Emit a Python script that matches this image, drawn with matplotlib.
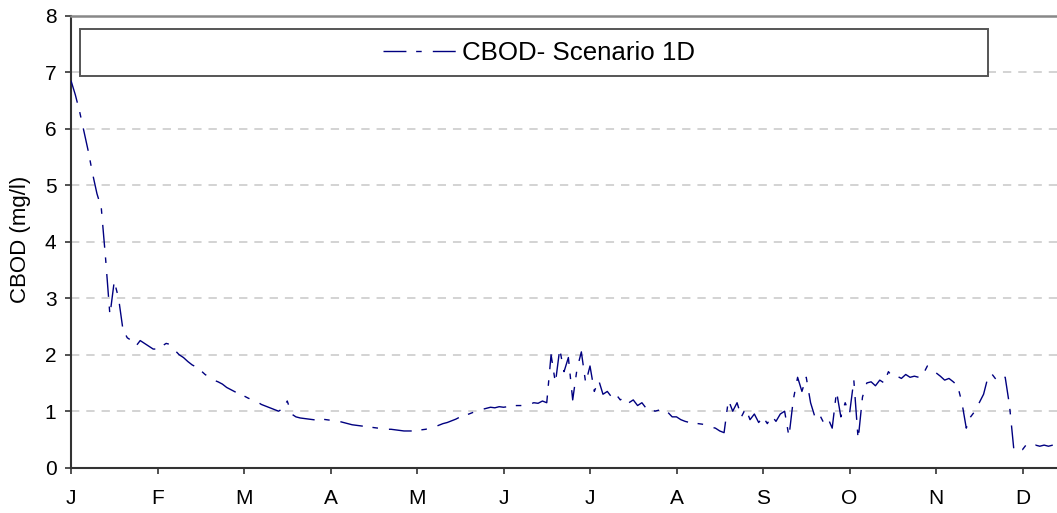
import numpy as np
import matplotlib
matplotlib.use("Agg")
import matplotlib.pyplot as plt
from matplotlib.patches import Rectangle

plt.rcParams['font.family'] = ['Liberation Sans', 'DejaVu Sans']
plt.rcParams['lines.scale_dashes'] = False

month_labels = ["J", "F", "M", "A", "M", "J", "J", "A", "S", "O", "N", "D"]
series_name = "CBOD- Scenario 1D"
time_step_months = 0.05   # sampling interval of the series, in months

cbod = [
    6.85, 6.6, 6.3, 5.95, 5.6, 5.2, 4.85, 4.6, 3.7, 2.7,
    3.3, 3.0, 2.45, 2.3, 2.25, 2.15, 2.25, 2.2, 2.15, 2.1,
    2.1, 2.15, 2.2, 2.18, 2.08, 2.0, 1.95, 1.88, 1.82, 1.78,
    1.72, 1.65, 1.6, 1.55, 1.52, 1.48, 1.42, 1.38, 1.34, 1.3,
    1.27, 1.23, 1.2, 1.17, 1.12, 1.09, 1.06, 1.03, 1.0, 1.05,
    1.18, 0.95, 0.9, 0.88, 0.87, 0.86, 0.85, 0.84, 0.86, 0.85,
    0.84, 0.85, 0.82, 0.8, 0.78, 0.76, 0.75, 0.74, 0.73, 0.72,
    0.71, 0.7, 0.7, 0.68, 0.68, 0.67, 0.66, 0.65, 0.65, 0.65,
    0.66, 0.67, 0.68, 0.7, 0.72, 0.75, 0.78, 0.8, 0.83, 0.86,
    0.9, 0.93, 0.95, 0.98, 1.0, 1.03, 1.05, 1.07, 1.06, 1.08,
    1.07, 1.08, 1.09, 1.1, 1.1, 1.12, 1.12, 1.15, 1.14, 1.18,
    1.15, 2.0, 1.5, 2.1, 1.7, 1.95, 1.2, 1.75, 2.05, 1.5,
    1.8, 1.35, 1.55, 1.3, 1.35, 1.25, 1.3, 1.2, 1.25, 1.15,
    1.2, 1.1, 1.15, 1.05, 1.05, 1.0, 1.02, 0.95, 0.98, 0.9,
    0.9, 0.85, 0.82, 0.8, 0.8, 0.78, 0.77, 0.73, 0.72, 0.7,
    0.65, 0.62, 1.2, 1.0, 1.15, 0.9, 1.05, 0.85, 0.95, 0.8,
    0.9, 0.78, 0.92, 0.82, 0.95, 1.0, 0.55, 1.2, 1.6, 1.35,
    1.6, 1.15, 0.9, 0.95, 0.8, 0.88, 0.7, 1.35, 0.9, 1.15,
    0.95, 1.55, 0.5, 1.25, 1.5, 1.52, 1.45, 1.55, 1.5, 1.7,
    1.6, 1.62, 1.58, 1.65, 1.6, 1.62, 1.6, 1.65, 1.8, 1.72,
    1.68, 1.62, 1.55, 1.58, 1.52, 1.45, 1.15, 0.7, 0.9, 1.0,
    1.15, 1.3, 1.6, 1.65, 1.55, 1.62, 1.6, 1.1, 0.32, 0.32,
    0.32, 0.42, 0.38, 0.4, 0.38, 0.4, 0.38, 0.4,
]
t = np.arange(len(cbod)) * time_step_months

fig = plt.figure(figsize=(10.57, 5.13), dpi=100)
ax = fig.add_axes([71/1057, 1-467.7/513, 1-71/1057, (467.7-15.7)/513])

ax.plot(t, cbod, color="#000080", lw=1.0,
        linestyle=(0, (16.5, 7, 4, 8)), label=series_name, zorder=3)

ax.set_xlim(0, 986/86.5)
ax.set_ylim(0, 8)
ax.set_xticks(np.arange(len(month_labels)))
ax.set_xticklabels(month_labels)
ax.set_yticks(np.arange(0, 9))

for y in range(1, 8):
    ax.axhline(y, color="#c8c8c8", lw=1.1, linestyle=(0, (6, 5)), zorder=1)

ax.tick_params(axis='x', length=4, width=1.2, color="#333333", pad=11.5, labelsize=15)
ax.tick_params(axis='y', length=4, width=1.2, color="#333333", pad=6.5, labelsize=15)

for s in ["left", "bottom"]:
    ax.spines[s].set_color("#333333")
    ax.spines[s].set_linewidth(1.5)
ax.spines["top"].set_color("#888888")
ax.spines["top"].set_linewidth(1.8)
ax.spines["right"].set_visible(False)

ax.set_ylabel("CBOD (mg/l)", fontsize=16)
ax.yaxis.set_label_coords(-0.0405, 0.505)

box = Rectangle((9/986, 0.8666), (988-80)/986, 0.970-0.8666, transform=ax.transAxes,
                facecolor="white", edgecolor="#555555", lw=1.4, zorder=4)
ax.add_patch(box)
leg = ax.legend(loc="center", bbox_to_anchor=(0.4746, 0.918), frameon=False,
                fontsize=18.6, handlelength=2.86, handletextpad=0.23, borderpad=0,
                borderaxespad=0)
leg.set_zorder(5)

fig.savefig("out.png", dpi=100)
